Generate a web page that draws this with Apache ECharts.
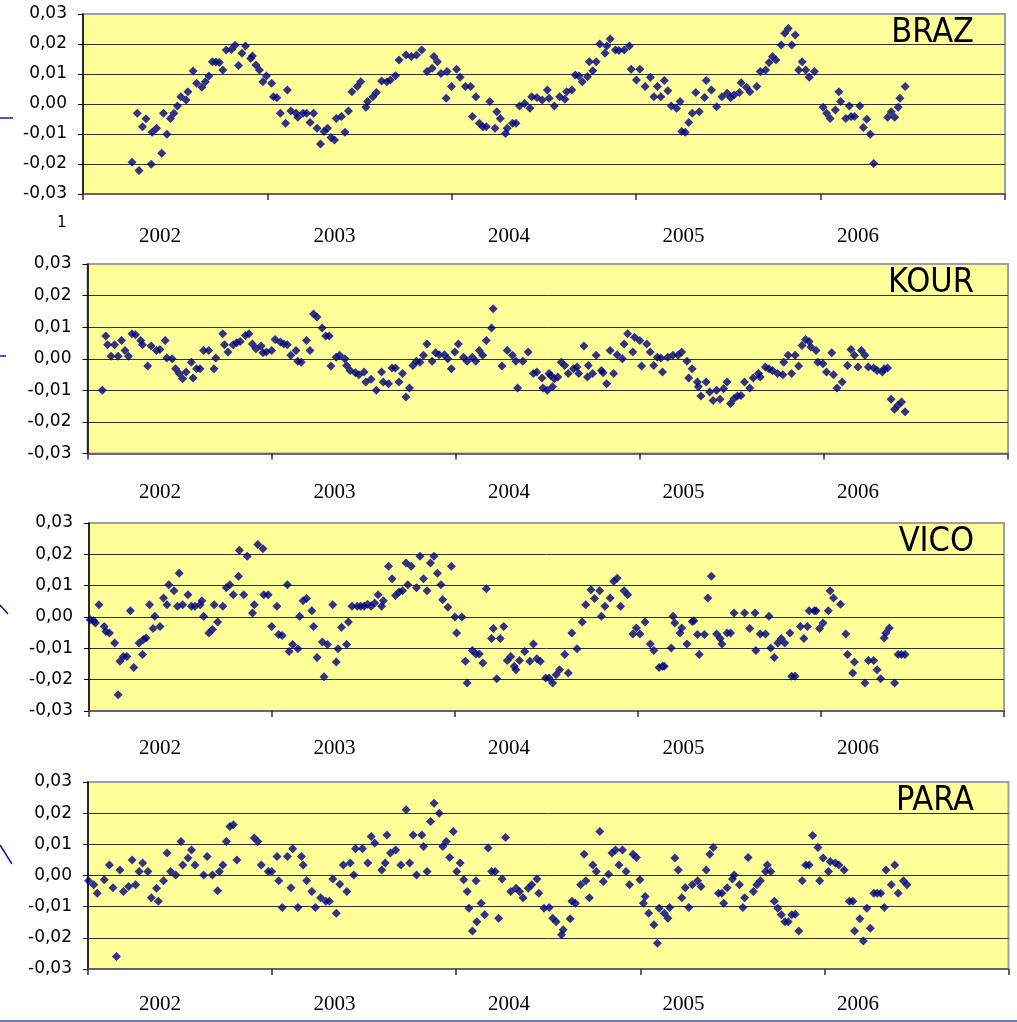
<!DOCTYPE html>
<html>
<head>
<meta charset="utf-8">
<script src="https://cdn.jsdelivr.net/npm/echarts@6/dist/echarts.min.js"></script>
<style>
  html, body { margin: 0; padding: 0; background: #ffffff; }
  #chart { width: 1017px; height: 1022px; }
</style>
</head>
<body>
<div id="chart"></div>
<script>
// Station names, one panel each
const stations = ['BRAZ', 'KOUR', 'VICO', 'PARA'];
// Year labels on the time axis
const yearLabels = [2002, 2003, 2004, 2005, 2006];
// Residual axis: range and step
const valueMin = -0.03;
const valueMax = 0.03;
const valueStep = 0.01;

// Residual series per station: [decimal year, residual]
const braz = [[2001.84,-0.0194],[2001.87,-0.0031],[2001.88,-0.0222],[2001.90,-0.0076],[2001.92,-0.0049],[2001.95,-0.0201],[2001.955,-0.0094],[2001.98,-0.0081],[2002.01,-0.0164],[2002.02,-0.0031],[2002.04,-0.0101],[2002.06,-0.0048],[2002.08,-0.0031],[2002.10,-0.0007],[2002.12,0.0024],[2002.15,0.0013],[2002.16,0.0041],[2002.19,0.0110],[2002.21,0.0069],[2002.24,0.0056],[2002.26,0.0074],[2002.28,0.0093],[2002.30,0.0141],[2002.32,0.0140],[2002.34,0.0138],[2002.36,0.0113],[2002.38,0.0180],[2002.41,0.0182],[2002.43,0.0196],[2002.45,0.0128],[2002.47,0.0169],[2002.49,0.0193],[2002.52,0.0152],[2002.53,0.0160],[2002.55,0.0130],[2002.57,0.0113],[2002.59,0.0074],[2002.61,0.0093],[2002.64,0.0069],[2002.65,0.0024],[2002.67,0.0021],[2002.69,-0.0031],[2002.72,-0.0064],[2002.73,0.0047],[2002.75,-0.0023],[2002.78,-0.0031],[2002.79,-0.0044],[2002.82,-0.0031],[2002.84,-0.0031],[2002.86,-0.0062],[2002.88,-0.0031],[2002.90,-0.0081],[2002.92,-0.0133],[2002.94,-0.0092],[2002.96,-0.0081],[2002.98,-0.0112],[2003.00,-0.0120],[2003.01,-0.0048],[2003.04,-0.0042],[2003.06,-0.0094],[2003.08,-0.0023],[2003.10,0.0041],[2003.13,0.0058],[2003.15,0.0074],[2003.18,-0.0011],[2003.19,0.0008],[2003.22,0.0024],[2003.24,0.0038],[2003.27,0.0077],[2003.30,0.0074],[2003.32,0.0080],[2003.35,0.0094],[2003.37,0.0147],[2003.41,0.0163],[2003.44,0.0158],[2003.47,0.0163],[2003.50,0.0180],[2003.53,0.0108],[2003.56,0.0119],[2003.57,0.0158],[2003.59,0.0141],[2003.61,0.0102],[2003.64,0.0019],[2003.645,0.0108],[2003.67,0.0058],[2003.70,0.0116],[2003.72,0.0089],[2003.75,0.0058],[2003.78,0.0058],[2003.79,-0.0042],[2003.81,0.0024],[2003.83,-0.0064],[2003.85,-0.0076],[2003.87,-0.0076],[2003.89,0.0008],[2003.92,-0.0081],[2003.93,-0.0026],[2003.95,-0.0048],[2003.98,-0.0098],[2003.99,-0.0081],[2004.02,-0.0064],[2004.04,-0.0064],[2004.06,-0.0007],[2004.09,0.0002],[2004.12,-0.0014],[2004.13,0.0024],[2004.16,0.0022],[2004.19,0.0013],[2004.22,0.0047],[2004.23,0.0019],[2004.26,-0.0007],[2004.29,0.0024],[2004.32,0.0016],[2004.33,0.0041],[2004.36,0.0047],[2004.38,0.0097],[2004.40,0.0093],[2004.42,0.0074],[2004.45,0.0091],[2004.46,0.0141],[2004.48,0.0111],[2004.50,0.0141],[2004.52,0.0200],[2004.55,0.0169],[2004.56,0.0193],[2004.58,0.0217],[2004.61,0.0180],[2004.63,0.0178],[2004.66,0.0180],[2004.69,0.0193],[2004.70,0.0116],[2004.73,0.0080],[2004.75,0.0116],[2004.78,0.0058],[2004.81,0.0089],[2004.83,0.0024],[2004.85,0.0058],[2004.87,0.0024],[2004.89,0.0078],[2004.91,0.0044],[2004.93,-0.0007],[2004.96,-0.0014],[2004.98,0.0008],[2004.99,-0.0092],[2005.01,-0.0094],[2005.03,-0.0062],[2005.05,-0.0031],[2005.07,0.0038],[2005.09,-0.0026],[2005.12,0.0022],[2005.13,0.0078],[2005.16,0.0047],[2005.19,-0.0009],[2005.22,0.0024],[2005.25,0.0036],[2005.27,0.0021],[2005.29,0.0030],[2005.32,0.0038],[2005.33,0.0071],[2005.36,0.0056],[2005.38,0.0041],[2005.42,0.0058],[2005.44,0.0108],[2005.47,0.0113],[2005.49,0.0138],[2005.51,0.0158],[2005.53,0.0147],[2005.56,0.0197],[2005.58,0.0236],[2005.60,0.0252],[2005.62,0.0197],[2005.64,0.0230],[2005.66,0.0113],[2005.68,0.0141],[2005.70,0.0113],[2005.72,0.0089],[2005.75,0.0108],[2005.80,-0.0011],[2005.82,-0.0031],[2005.84,-0.0048],[2005.87,-0.0020],[2005.89,0.0041],[2005.90,0.0008],[2005.93,-0.0048],[2005.95,-0.0007],[2005.96,-0.0042],[2005.98,-0.0042],[2006.01,-0.0007],[2006.03,-0.0078],[2006.05,-0.0051],[2006.07,-0.0101],[2006.09,-0.0198],[2006.17,-0.0044],[2006.19,-0.0026],[2006.21,-0.0044],[2006.23,-0.0011],[2006.24,0.0019],[2006.27,0.0058]];

const kour = [[2001.67,-0.0100],[2001.69,0.0072],[2001.70,0.0044],[2001.72,0.0008],[2001.74,0.0044],[2001.76,0.0008],[2001.78,0.0058],[2001.80,0.0026],[2001.82,0.0008],[2001.84,0.0079],[2001.86,0.0076],[2001.89,0.0058],[2001.90,0.0044],[2001.93,-0.0023],[2001.95,0.0040],[2001.98,0.0026],[2002.00,0.0029],[2002.03,0.0058],[2002.04,0.0002],[2002.07,0.0000],[2002.09,-0.0032],[2002.11,-0.0047],[2002.13,-0.0063],[2002.15,-0.0042],[2002.18,-0.0011],[2002.19,-0.0061],[2002.21,-0.0032],[2002.23,-0.0032],[2002.25,0.0026],[2002.28,0.0026],[2002.31,-0.0032],[2002.32,0.0002],[2002.36,0.0079],[2002.37,0.0044],[2002.39,0.0021],[2002.42,0.0044],[2002.44,0.0051],[2002.46,0.0055],[2002.49,0.0074],[2002.51,0.0079],[2002.53,0.0047],[2002.55,0.0032],[2002.58,0.0040],[2002.59,0.0019],[2002.61,0.0021],[2002.64,0.0026],[2002.66,0.0061],[2002.69,0.0053],[2002.71,0.0047],[2002.73,0.0044],[2002.75,0.0011],[2002.78,0.0026],[2002.79,-0.0008],[2002.81,-0.0011],[2002.84,0.0058],[2002.86,0.0026],[2002.88,0.0142],[2002.90,0.0132],[2002.93,0.0097],[2002.95,0.0072],[2002.97,0.0072],[2002.98,-0.0023],[2003.01,0.0005],[2003.03,0.0011],[2003.06,0.0000],[2003.07,-0.0021],[2003.09,-0.0037],[2003.12,-0.0044],[2003.14,-0.0051],[2003.17,-0.0042],[2003.18,-0.0074],[2003.21,-0.0065],[2003.24,-0.0100],[2003.27,-0.0042],[2003.28,-0.0074],[2003.31,-0.0079],[2003.33,-0.0029],[2003.35,-0.0029],[2003.37,-0.0074],[2003.39,-0.0047],[2003.41,-0.0121],[2003.43,-0.0093],[2003.45,-0.0021],[2003.47,-0.0008],[2003.49,-0.0011],[2003.51,0.0011],[2003.53,0.0047],[2003.56,-0.0008],[2003.58,0.0019],[2003.60,0.0013],[2003.63,0.0013],[2003.65,0.0000],[2003.67,-0.0032],[2003.69,0.0021],[2003.71,0.0047],[2003.74,0.0005],[2003.76,-0.0008],[2003.79,0.0005],[2003.81,-0.0008],[2003.83,0.0026],[2003.85,0.0011],[2003.87,0.0058],[2003.90,0.0097],[2003.91,0.0158],[2003.96,-0.0023],[2003.99,0.0026],[2004.02,0.0011],[2004.04,-0.0008],[2004.05,-0.0093],[2004.08,-0.0008],[2004.11,0.0021],[2004.14,-0.0047],[2004.16,-0.0042],[2004.19,-0.0061],[2004.195,-0.0093],[2004.22,-0.0100],[2004.23,-0.0047],[2004.24,-0.0053],[2004.25,-0.0089],[2004.26,-0.0063],[2004.28,-0.0058],[2004.30,-0.0011],[2004.32,-0.0021],[2004.34,-0.0047],[2004.37,-0.0032],[2004.39,-0.0026],[2004.40,-0.0047],[2004.43,0.0040],[2004.45,-0.0058],[2004.455,-0.0021],[2004.48,-0.0047],[2004.50,0.0011],[2004.53,-0.0037],[2004.54,-0.0044],[2004.56,-0.0079],[2004.58,0.0026],[2004.60,-0.0047],[2004.62,0.0013],[2004.65,0.0000],[2004.66,0.0047],[2004.68,0.0079],[2004.71,0.0021],[2004.72,0.0068],[2004.75,0.0058],[2004.76,-0.0023],[2004.79,0.0047],[2004.81,0.0021],[2004.83,-0.0021],[2004.85,0.0005],[2004.87,0.0002],[2004.88,-0.0042],[2004.91,0.0005],[2004.94,0.0011],[2004.97,0.0011],[2004.99,0.0021],[2005.02,-0.0008],[2005.03,-0.0061],[2005.05,-0.0032],[2005.08,-0.0074],[2005.085,-0.0089],[2005.10,-0.0118],[2005.13,-0.0074],[2005.15,-0.0105],[2005.17,-0.0132],[2005.19,-0.0100],[2005.21,-0.0128],[2005.23,-0.0095],[2005.25,-0.0074],[2005.27,-0.0142],[2005.29,-0.0126],[2005.31,-0.0118],[2005.33,-0.0116],[2005.35,-0.0074],[2005.38,-0.0093],[2005.40,-0.0061],[2005.43,-0.0047],[2005.44,-0.0058],[2005.47,-0.0026],[2005.49,-0.0032],[2005.51,-0.0037],[2005.54,-0.0047],[2005.57,-0.0051],[2005.575,-0.0011],[2005.60,0.0011],[2005.62,-0.0047],[2005.64,0.0011],[2005.66,-0.0023],[2005.68,0.0042],[2005.70,0.0061],[2005.72,0.0055],[2005.73,0.0037],[2005.76,0.0026],[2005.77,-0.0011],[2005.80,-0.0016],[2005.82,-0.0042],[2005.85,0.0019],[2005.86,-0.0051],[2005.88,-0.0093],[2005.91,-0.0074],[2005.94,-0.0021],[2005.96,0.0029],[2005.98,0.0011],[2006.00,-0.0026],[2006.02,0.0026],[2006.04,0.0011],[2006.06,-0.0026],[2006.09,-0.0029],[2006.11,-0.0037],[2006.14,-0.0042],[2006.15,-0.0032],[2006.17,-0.0029],[2006.19,-0.0128],[2006.21,-0.0160],[2006.23,-0.0147],[2006.25,-0.0137],[2006.27,-0.0168]];

const vico = [[2001.60,-0.0009],[2001.62,-0.0012],[2001.63,-0.0019],[2001.65,0.0039],[2001.68,-0.0030],[2001.69,-0.0046],[2001.71,-0.0051],[2001.74,-0.0083],[2001.76,-0.0248],[2001.77,-0.0141],[2001.79,-0.0126],[2001.81,-0.0126],[2001.83,0.0020],[2001.85,-0.0161],[2001.88,-0.0083],[2001.90,-0.0120],[2001.905,-0.0072],[2001.92,-0.0067],[2001.94,0.0039],[2001.96,-0.0037],[2001.97,0.0002],[2002.00,-0.0030],[2002.02,0.0061],[2002.04,0.0039],[2002.05,0.0103],[2002.08,0.0084],[2002.10,0.0034],[2002.11,0.0140],[2002.13,0.0039],[2002.16,0.0071],[2002.18,0.0034],[2002.20,0.0034],[2002.23,0.0039],[2002.24,0.0052],[2002.25,0.0002],[2002.28,-0.0051],[2002.30,-0.0040],[2002.31,0.0039],[2002.33,-0.0016],[2002.36,0.0034],[2002.38,0.0093],[2002.40,0.0103],[2002.42,0.0071],[2002.45,0.0130],[2002.455,0.0213],[2002.48,0.0071],[2002.50,0.0194],[2002.53,0.0013],[2002.54,0.0039],[2002.56,0.0231],[2002.59,0.0218],[2002.595,0.0071],[2002.62,0.0071],[2002.64,-0.0030],[2002.67,0.0034],[2002.68,-0.0056],[2002.70,-0.0059],[2002.73,0.0103],[2002.74,-0.0110],[2002.76,-0.0088],[2002.79,-0.0101],[2002.80,0.0002],[2002.82,0.0052],[2002.84,0.0059],[2002.87,0.0020],[2002.88,-0.0030],[2002.90,-0.0129],[2002.93,-0.0080],[2002.94,-0.0191],[2002.96,-0.0088],[2002.99,0.0039],[2003.01,-0.0144],[2003.02,-0.0101],[2003.04,-0.0033],[2003.07,-0.0088],[2003.08,-0.0016],[2003.10,0.0034],[2003.13,0.0034],[2003.15,0.0034],[2003.17,0.0034],[2003.19,0.0041],[2003.21,0.0034],[2003.23,0.0045],[2003.25,0.0071],[2003.27,0.0034],[2003.28,0.0052],[2003.31,0.0162],[2003.33,0.0122],[2003.35,0.0069],[2003.37,0.0080],[2003.39,0.0084],[2003.41,0.0172],[2003.42,0.0103],[2003.44,0.0162],[2003.47,0.0093],[2003.49,0.0194],[2003.51,0.0122],[2003.53,0.0084],[2003.55,0.0172],[2003.57,0.0194],[2003.59,0.0140],[2003.61,0.0103],[2003.62,0.0055],[2003.65,0.0031],[2003.67,0.0162],[2003.69,0.0000],[2003.70,-0.0051],[2003.73,0.0000],[2003.75,-0.0141],[2003.76,-0.0211],[2003.79,-0.0107],[2003.81,-0.0118],[2003.83,-0.0118],[2003.85,-0.0147],[2003.87,0.0090],[2003.90,-0.0069],[2003.91,-0.0037],[2003.93,-0.0197],[2003.95,-0.0069],[2003.97,-0.0030],[2003.99,-0.0139],[2004.01,-0.0126],[2004.03,-0.0157],[2004.04,-0.0168],[2004.06,-0.0139],[2004.09,-0.0110],[2004.12,-0.0141],[2004.14,-0.0086],[2004.16,-0.0133],[2004.18,-0.0141],[2004.21,-0.0195],[2004.23,-0.0195],[2004.25,-0.0211],[2004.27,-0.0184],[2004.29,-0.0168],[2004.32,-0.0120],[2004.34,-0.0179],[2004.36,-0.0051],[2004.39,-0.0101],[2004.42,-0.0016],[2004.44,0.0039],[2004.47,0.0087],[2004.49,0.0059],[2004.52,0.0084],[2004.53,0.0002],[2004.55,0.0034],[2004.58,0.0061],[2004.60,0.0114],[2004.62,0.0124],[2004.64,0.0034],[2004.66,0.0084],[2004.68,0.0071],[2004.71,-0.0054],[2004.73,-0.0035],[2004.75,-0.0054],[2004.78,-0.0016],[2004.81,-0.0086],[2004.83,-0.0107],[2004.86,-0.0161],[2004.88,-0.0157],[2004.89,-0.0157],[2004.93,-0.0099],[2004.94,0.0002],[2004.95,-0.0019],[2004.98,-0.0051],[2004.99,-0.0035],[2005.02,-0.0086],[2005.05,-0.0014],[2005.06,-0.0012],[2005.08,-0.0056],[2005.09,-0.0120],[2005.12,-0.0056],[2005.14,0.0061],[2005.16,0.0130],[2005.19,-0.0054],[2005.21,-0.0069],[2005.22,-0.0086],[2005.25,-0.0051],[2005.27,-0.0051],[2005.29,0.0013],[2005.35,0.0013],[2005.38,-0.0037],[2005.41,0.0013],[2005.415,-0.0107],[2005.44,-0.0054],[2005.47,-0.0054],[2005.49,0.0002],[2005.50,-0.0099],[2005.52,-0.0129],[2005.54,-0.0083],[2005.56,-0.0069],[2005.58,-0.0083],[2005.61,-0.0051],[2005.62,-0.0189],[2005.64,-0.0189],[2005.67,-0.0030],[2005.69,-0.0069],[2005.71,-0.0030],[2005.72,0.0020],[2005.75,0.0020],[2005.76,0.0020],[2005.78,-0.0037],[2005.80,-0.0019],[2005.83,0.0020],[2005.84,0.0084],[2005.86,0.0061],[2005.90,0.0041],[2005.93,-0.0054],[2005.94,-0.0120],[2005.97,-0.0179],[2005.98,-0.0144],[2006.04,-0.0211],[2006.06,-0.0139],[2006.09,-0.0139],[2006.11,-0.0168],[2006.13,-0.0197],[2006.15,-0.0067],[2006.16,-0.0051],[2006.18,-0.0035],[2006.21,-0.0211],[2006.23,-0.0120],[2006.25,-0.0120],[2006.27,-0.0120]];

const para = [[2001.59,-0.0017],[2001.62,-0.0030],[2001.64,-0.0057],[2001.68,-0.0014],[2001.71,0.0034],[2001.73,-0.0039],[2001.75,-0.0260],[2001.77,0.0018],[2001.79,-0.0051],[2001.82,-0.0035],[2001.84,0.0050],[2001.86,-0.0030],[2001.88,0.0013],[2001.90,0.0040],[2001.93,0.0013],[2001.95,-0.0071],[2001.98,-0.0041],[2001.99,-0.0083],[2002.02,-0.0017],[2002.04,0.0072],[2002.06,0.0013],[2002.09,0.0002],[2002.12,0.0109],[2002.13,0.0034],[2002.16,0.0056],[2002.18,0.0082],[2002.20,0.0034],[2002.25,0.0002],[2002.27,0.0061],[2002.30,0.0002],[2002.33,-0.0049],[2002.34,0.0013],[2002.36,0.0034],[2002.38,0.0109],[2002.40,0.0157],[2002.42,0.0163],[2002.44,0.0050],[2002.54,0.0120],[2002.56,0.0109],[2002.58,0.0034],[2002.62,0.0013],[2002.64,0.0013],[2002.67,0.0061],[2002.68,-0.0017],[2002.70,-0.0103],[2002.73,0.0061],[2002.75,-0.0039],[2002.76,0.0086],[2002.79,-0.0103],[2002.81,0.0061],[2002.82,0.0034],[2002.84,-0.0017],[2002.87,-0.0051],[2002.89,-0.0103],[2002.92,-0.0071],[2002.95,-0.0083],[2002.97,-0.0083],[2002.99,-0.0011],[2003.01,-0.0121],[2003.03,-0.0028],[2003.05,0.0034],[2003.07,-0.0051],[2003.09,0.0040],[2003.11,0.0002],[2003.12,0.0086],[2003.16,0.0086],[2003.19,0.0040],[2003.21,0.0125],[2003.23,0.0104],[2003.27,0.0018],[2003.29,0.0040],[2003.30,0.0130],[2003.32,0.0072],[2003.35,0.0082],[2003.38,0.0034],[2003.41,0.0211],[2003.43,0.0040],[2003.45,0.0130],[2003.47,0.0002],[2003.50,0.0130],[2003.51,0.0093],[2003.53,0.0013],[2003.55,0.0173],[2003.57,0.0232],[2003.60,0.0200],[2003.62,0.0093],[2003.64,0.0109],[2003.66,0.0058],[2003.68,0.0141],[2003.70,0.0013],[2003.72,0.0040],[2003.74,-0.0014],[2003.76,-0.0051],[2003.77,-0.0105],[2003.79,-0.0178],[2003.81,-0.0017],[2003.815,-0.0148],[2003.84,-0.0089],[2003.86,-0.0126],[2003.88,0.0088],[2003.90,0.0013],[2003.92,0.0013],[2003.94,-0.0137],[2003.96,-0.0011],[2003.98,0.0122],[2004.01,-0.0051],[2004.04,-0.0041],[2004.06,-0.0051],[2004.08,-0.0071],[2004.11,-0.0041],[2004.13,-0.0030],[2004.16,-0.0011],[2004.17,-0.0057],[2004.20,-0.0105],[2004.23,-0.0103],[2004.25,-0.0137],[2004.27,-0.0148],[2004.30,-0.0190],[2004.31,-0.0174],[2004.35,-0.0139],[2004.36,-0.0083],[2004.38,-0.0089],[2004.41,-0.0030],[2004.43,0.0068],[2004.44,-0.0017],[2004.46,-0.0071],[2004.48,0.0034],[2004.50,0.0013],[2004.52,0.0141],[2004.54,-0.0019],[2004.57,0.0004],[2004.59,0.0072],[2004.61,0.0082],[2004.63,0.0034],[2004.65,0.0082],[2004.67,0.0013],[2004.69,-0.0030],[2004.71,0.0068],[2004.73,0.0058],[2004.75,-0.0014],[2004.77,-0.0089],[2004.78,-0.0067],[2004.80,-0.0121],[2004.83,-0.0158],[2004.85,-0.0217],[2004.86,-0.0105],[2004.89,-0.0121],[2004.91,-0.0137],[2004.92,-0.0103],[2004.95,0.0056],[2004.97,0.0018],[2004.99,-0.0071],[2005.01,-0.0039],[2005.03,-0.0103],[2005.05,-0.0030],[2005.08,-0.0017],[2005.10,-0.0035],[2005.13,0.0018],[2005.15,0.0068],[2005.17,0.0090],[2005.20,-0.0057],[2005.22,-0.0057],[2005.23,-0.0089],[2005.25,-0.0039],[2005.28,-0.0011],[2005.29,0.0002],[2005.32,-0.0030],[2005.34,-0.0103],[2005.35,-0.0071],[2005.37,0.0058],[2005.40,-0.0051],[2005.42,-0.0030],[2005.44,-0.0017],[2005.47,0.0013],[2005.48,0.0034],[2005.50,0.0013],[2005.52,-0.0083],[2005.54,-0.0105],[2005.56,-0.0126],[2005.58,-0.0148],[2005.60,-0.0148],[2005.62,-0.0126],[2005.64,-0.0124],[2005.66,-0.0178],[2005.68,-0.0017],[2005.70,0.0034],[2005.72,0.0034],[2005.74,0.0128],[2005.77,0.0090],[2005.78,-0.0017],[2005.80,0.0056],[2005.83,0.0013],[2005.84,0.0045],[2005.87,0.0040],[2005.89,0.0034],[2005.92,0.0018],[2005.95,-0.0083],[2005.97,-0.0083],[2005.98,-0.0178],[2006.01,-0.0139],[2006.03,-0.0210],[2006.05,-0.0105],[2006.07,-0.0169],[2006.09,-0.0057],[2006.11,-0.0057],[2006.13,-0.0057],[2006.15,-0.0103],[2006.16,0.0018],[2006.19,-0.0030],[2006.21,0.0034],[2006.23,-0.0057],[2006.26,-0.0017],[2006.28,-0.0030]];

const stationSeries = [braz, kour, vico, para];

// Plot frames (pixels) and the time span each frame covers
const frames = [
  { left: 83,   top: 14,  width: 922,   height: 180,   span: [2001.559, 2006.842], labelGap: 32 },
  { left: 87.5, top: 264, width: 920.5, height: 189.5, span: [2001.585, 2006.860], labelGap: 28 },
  { left: 89,   top: 523, width: 915,   height: 188,   span: [2001.593, 2006.837], labelGap: 27 },
  { left: 88,   top: 782, width: 920.5, height: 187,   span: [2001.587, 2006.862], labelGap: 25 }
];

const NAVY = '#000080';
const PLOT_BG = '#FFFF99';

function residualLabel(v) {
  const x = Math.abs(v) < 1e-9 ? 0 : v;
  return x.toFixed(2).replace('.', ',');
}

// Tick marks split each time axis into five equal category bands
function bandTicks(span) {
  const out = [];
  for (let k = 0; k <= 5; k++) {
    out.push(Math.min(span[1], span[0] + k * (span[1] - span[0]) / 5));
  }
  return out;
}

const option = {
  animation: false,
  backgroundColor: '#ffffff',
  grid: frames.map(f => ({
    left: f.left, top: f.top, width: f.width, height: f.height,
    show: true, backgroundColor: PLOT_BG,
    borderColor: '#a0a0a0', borderWidth: 2,
    containLabel: false, outerBoundsMode: 'none'
  })),
  title: stations.map((name, i) => ({
    text: name,
    right: 43,
    top: frames[i].top + 2,
    padding: 0,
    textStyle: {
      fontFamily: '"Liberation Sans Narrow", "DejaVu Sans Condensed", "Liberation Sans", sans-serif',
      fontSize: 34, fontWeight: 'normal', color: '#000'
    }
  })),
  xAxis: frames.map((f, i) => ({
    type: 'value', gridIndex: i,
    min: f.span[0], max: f.span[1],
    axisLine: { show: true, onZero: false, lineStyle: { color: '#505050', width: 1.5 } },
    axisTick: { show: true, length: 6, customValues: bandTicks(f.span), lineStyle: { color: '#303030', width: 1.5 } },
    axisLabel: {
      customValues: yearLabels,
      formatter: v => String(Math.round(v)),
      fontFamily: '"Liberation Serif", "Times New Roman", serif',
      fontSize: 21, color: '#000', margin: f.labelGap
    },
    splitLine: { show: false }
  })),
  yAxis: frames.map((f, i) => ({
    type: 'value', gridIndex: i,
    min: valueMin, max: valueMax, interval: valueStep,
    axisLine: { show: true, onZero: false, lineStyle: { color: '#000', width: 1.5 } },
    axisTick: { show: true, length: 5, lineStyle: { color: '#000', width: 1 } },
    axisLabel: {
      formatter: residualLabel,
      fontFamily: '"DejaVu Sans", Arial, sans-serif',
      fontSize: 17, color: '#000', margin: 16
    },
    splitLine: { show: true, showMinLine: false, showMaxLine: false, lineStyle: { color: '#303030', width: 1 } }
  })),
  series: stationSeries.map((data, i) => ({
    type: 'scatter',
    name: stations[i],
    xAxisIndex: i, yAxisIndex: i,
    data: data,
    symbol: 'diamond',
    symbolSize: 9,
    clip: false,
    silent: true,
    itemStyle: { color: NAVY }
  })),
  graphic: [
    { type: 'text', left: 57, top: 216, style: { text: '1', fontFamily: '"DejaVu Sans", Arial, sans-serif', fontSize: 15, fill: '#000' } },
    { type: 'line', shape: { x1: 0, y1: 118, x2: 13, y2: 118 }, style: { stroke: '#1a1aa0', lineWidth: 1.5 } },
    { type: 'line', shape: { x1: 0, y1: 356, x2: 6, y2: 356 }, style: { stroke: '#1a1aa0', lineWidth: 1.5 } },
    { type: 'line', shape: { x1: 0, y1: 605, x2: 8, y2: 614 }, style: { stroke: '#1a1aa0', lineWidth: 1.5 } },
    { type: 'line', shape: { x1: 0, y1: 845, x2: 12, y2: 864 }, style: { stroke: '#1a1aa0', lineWidth: 1.5 } },
    { type: 'line', shape: { x1: 0, y1: 1021, x2: 1017, y2: 1021 }, style: { stroke: '#7a78b8', lineWidth: 2 } }
  ]
};

const chart = echarts.init(document.getElementById('chart'), null, { renderer: 'canvas' });
chart.setOption(option);
</script>
</body>
</html>
